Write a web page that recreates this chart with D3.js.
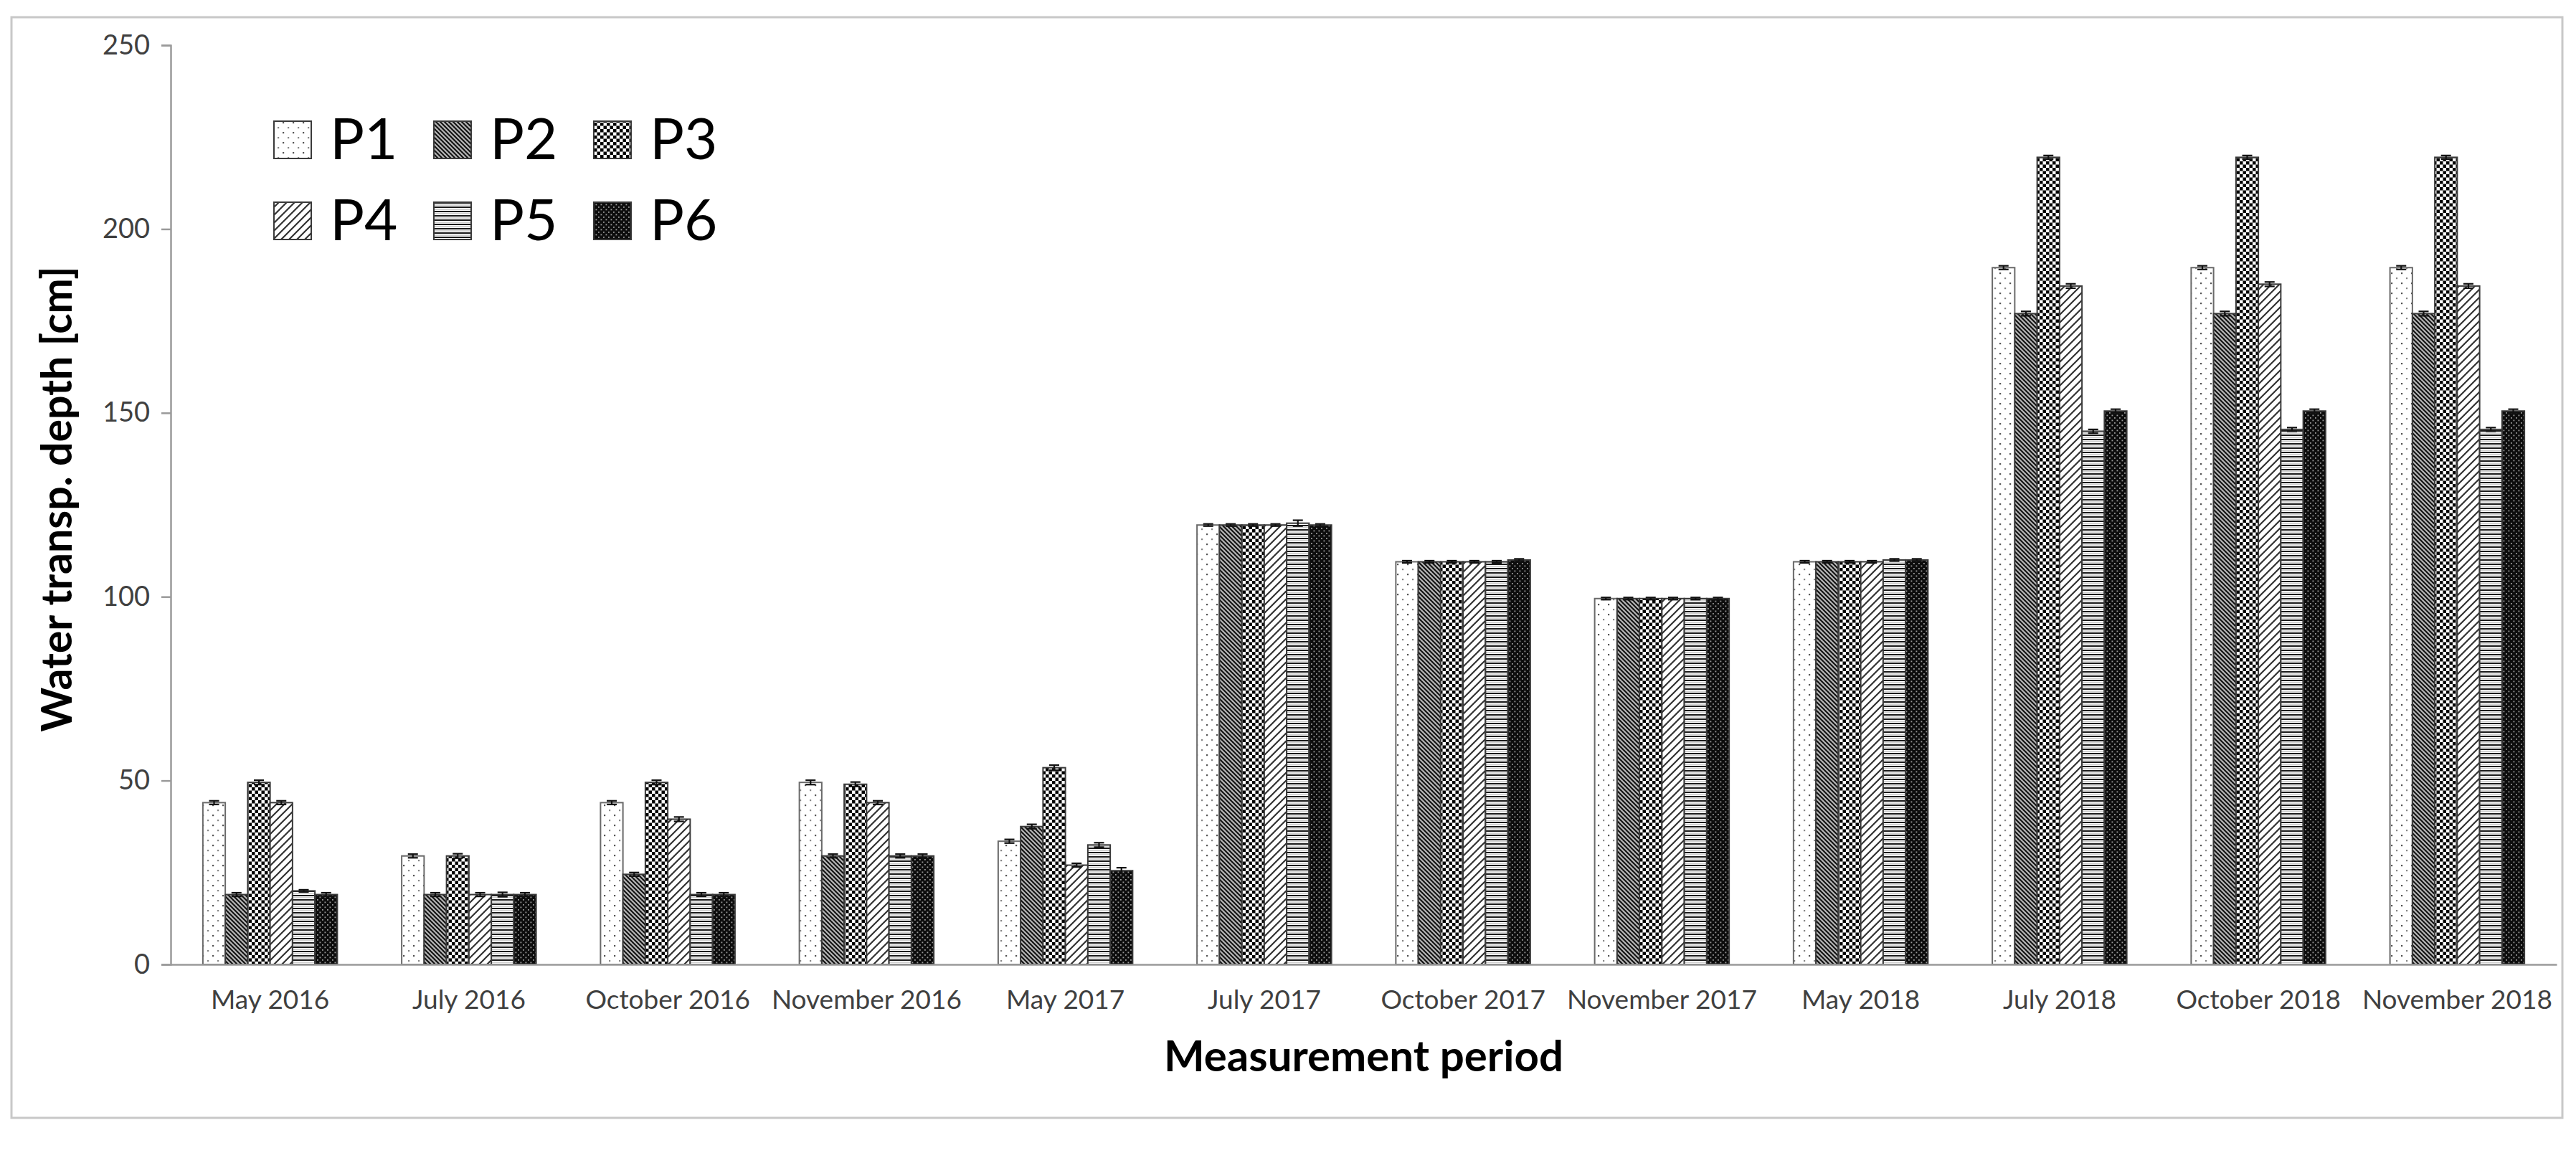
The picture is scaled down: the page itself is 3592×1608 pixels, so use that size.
<!DOCTYPE html>
<html>
<head>
<meta charset="utf-8">
<script src="https://cdn.jsdelivr.net/npm/d3@7"></script>
<style>
  html, body { margin: 0; padding: 0; background: #ffffff; }
  svg { display: block; }
  text { font-family: Lato, "Open Sans", sans-serif; }
</style>
</head>
<body>
<svg id="chart" width="3592" height="1608"></svg>
<script>
// ---------- data ----------
const categories = ["May 2016", "July 2016", "October 2016", "November 2016", "May 2017", "July 2017",
                    "October 2017", "November 2017", "May 2018", "July 2018", "October 2018", "November 2018"];
const seriesNames = ["P1", "P2", "P3", "P4", "P5", "P6"];
const P1 = [44, 29.5, 44, 49.5, 33.5, 119.5, 109.5, 99.5, 109.5, 189.5, 189.5, 189.5];
const P2 = [19, 19, 24.5, 29.5, 37.5, 119.5, 109.5, 99.5, 109.5, 177, 177, 177];
const P3 = [49.5, 29.5, 49.5, 49, 53.5, 119.5, 109.5, 99.5, 109.5, 219.5, 219.5, 219.5];
const P4 = [44, 19, 39.5, 44, 27, 119.5, 109.5, 99.5, 109.5, 184.5, 185, 184.5];
const P5 = [20, 19, 19, 29.5, 32.5, 120, 109.5, 99.5, 110, 145, 145.5, 145.5];
const P6 = [19, 19, 19, 29.5, 25.5, 119.5, 110, 99.5, 110, 150.5, 150.5, 150.5];
const E1 = [0.5, 0.5, 0.5, 0.6, 0.5, 0.3, 0.3, 0.3, 0.3, 0.5, 0.5, 0.5];
const E2 = [0.5, 0.5, 0.5, 0.5, 0.6, 0.3, 0.3, 0.3, 0.3, 0.6, 0.6, 0.6];
const E3 = [0.6, 0.6, 0.6, 0.6, 0.7, 0.3, 0.3, 0.3, 0.3, 0.5, 0.5, 0.5];
const E4 = [0.5, 0.5, 0.6, 0.5, 0.5, 0.3, 0.3, 0.3, 0.3, 0.6, 0.6, 0.6];
const E5 = [0.3, 0.6, 0.5, 0.5, 0.6, 0.8, 0.3, 0.3, 0.3, 0.5, 0.5, 0.5];
const E6 = [0.5, 0.5, 0.5, 0.5, 0.8, 0.3, 0.3, 0.3, 0.3, 0.5, 0.5, 0.5];
const yTicks = [0, 50, 100, 150, 200, 250];
const yTitle = "Water transp. depth [cm]";
const xTitle = "Measurement period";

const values = [P1, P2, P3, P4, P5, P6];
const errors = [E1, E2, E3, E4, E5, E6];

// ---------- layout ----------
const W = 3592, H = 1608;
const plot = { left: 238, right: 3565, top: 63, bottom: 1345 };

const svg = d3.select("#chart");
svg.append("rect").attr("width", W).attr("height", H).attr("fill", "#ffffff");

// outer chart border
svg.append("rect")
  .attr("x", 16).attr("y", 24).attr("width", 3557).attr("height", 1535)
  .attr("fill", "none").attr("stroke", "#c8c8c8").attr("stroke-width", 3);

// ---------- patterns ----------
const defs = svg.append("defs");
function pat(id, w, h, draw) {
  const p = defs.append("pattern").attr("id", id)
    .attr("patternUnits", "userSpaceOnUse").attr("width", w).attr("height", h);
  draw(p);
}
// P1: sparse dots
pat("pat0", 14, 14, p => {
  p.append("rect").attr("width", 14).attr("height", 14).attr("fill", "#ffffff");
  p.append("rect").attr("x", 2).attr("y", 2).attr("width", 2.2).attr("height", 2.2).attr("fill", "#555");
  p.append("rect").attr("x", 9).attr("y", 9).attr("width", 2.2).attr("height", 2.2).attr("fill", "#888");
});
// P2: dark downward diagonal
pat("pat1", 6, 6, p => {
  p.append("rect").attr("width", 6).attr("height", 6).attr("fill", "#b5b5b5");
  p.append("path").attr("d", "M-1,-1 L7,7 M-1,5 L1,7 M5,-1 L7,1")
    .attr("stroke", "#111").attr("stroke-width", 2);
});
// P3: checkerboard
pat("pat2", 9, 9, p => {
  p.append("rect").attr("width", 9).attr("height", 9).attr("fill", "#ffffff");
  p.append("rect").attr("width", 4.5).attr("height", 4.5).attr("fill", "#000");
  p.append("rect").attr("x", 4.5).attr("y", 4.5).attr("width", 4.5).attr("height", 4.5).attr("fill", "#000");
});
// P4: wide upward diagonal
pat("pat3", 11, 11, p => {
  p.append("rect").attr("width", 11).attr("height", 11).attr("fill", "#ffffff");
  p.append("path").attr("d", "M-1,12 L12,-1 M-3,3 L3,-3 M8,14 L14,8")
    .attr("stroke", "#333").attr("stroke-width", 2.2);
});
// P5: horizontal lines
pat("pat4", 6, 6, p => {
  p.append("rect").attr("width", 6).attr("height", 6).attr("fill", "#ffffff");
  p.append("rect").attr("y", 0).attr("width", 6).attr("height", 2).attr("fill", "#1a1a1a");
  p.append("rect").attr("y", 3.5).attr("width", 6).attr("height", 1).attr("fill", "#aaaaaa");
});
// P6: dark with white dots
pat("pat5", 7, 7, p => {
  p.append("rect").attr("width", 7).attr("height", 7).attr("fill", "#0d0d0d");
  p.append("rect").attr("x", 1).attr("y", 1).attr("width", 1.8).attr("height", 1.8).attr("fill", "#9a9a9a");
  p.append("rect").attr("x", 4.5).attr("y", 4.5).attr("width", 1.8).attr("height", 1.8).attr("fill", "#9a9a9a");
});

// ---------- scales ----------
const x0 = d3.scaleBand().domain(categories).range([plot.left, plot.right]).padding(0);
const x1 = d3.scaleBand().domain(seriesNames).range([0, x0.bandwidth()])
  .paddingInner(0).paddingOuter(1.436);
const y = d3.scaleLinear().domain([0, 250]).range([plot.bottom, plot.top]);

// ---------- bars ----------
const barData = [];
categories.forEach((c, ci) => {
  seriesNames.forEach((s, si) => {
    barData.push({ c, s, si, v: values[si][ci], e: errors[si][ci] });
  });
});

const gBars = svg.append("g");
gBars.selectAll("rect").data(barData).join("rect")
  .attr("x", d => x0(d.c) + x1(d.s))
  .attr("y", d => y(d.v))
  .attr("width", x1.bandwidth())
  .attr("height", d => y(0) - y(d.v))
  .attr("fill", d => `url(#pat${d.si})`)
  .attr("stroke", d => d.si === 0 ? "#6a6a6a" : "#3a3a3a")
  .attr("stroke-width", 2);

// error bars
const gErr = svg.append("g").attr("stroke", "#111").attr("stroke-width", 2.2);
const cap = 7;
barData.forEach(d => {
  const cx = x0(d.c) + x1(d.s) + x1.bandwidth() / 2;
  const y1 = y(d.v + d.e), y2 = y(d.v - d.e);
  gErr.append("line").attr("x1", cx).attr("x2", cx).attr("y1", y1).attr("y2", y2);
  gErr.append("line").attr("x1", cx - cap).attr("x2", cx + cap).attr("y1", y1).attr("y2", y1);
  gErr.append("line").attr("x1", cx - cap).attr("x2", cx + cap).attr("y1", y2).attr("y2", y2);
});

// ---------- axes ----------
const yAxis = d3.axisLeft(y).tickValues(yTicks).tickSize(13).tickPadding(16).tickFormat(d3.format("d"));
const gy = svg.append("g").attr("transform", `translate(${plot.left},0)`).call(yAxis);
gy.select(".domain").attr("stroke", "#9a9a9a").attr("stroke-width", 2.5);
gy.selectAll(".tick line").attr("stroke", "#9a9a9a").attr("stroke-width", 2.5);
gy.selectAll(".tick text").attr("fill", "#404040").style("font-size", "38px").style("font-family", "Lato");

const xAxis = d3.axisBottom(x0).tickSize(0).tickPadding(36);
const gx = svg.append("g").attr("transform", `translate(0,${plot.bottom})`).call(xAxis);
gx.select(".domain").attr("stroke", "#9a9a9a").attr("stroke-width", 2.5);
gx.selectAll(".tick text").attr("fill", "#404040").style("font-size", "37px").style("font-family", "Lato");

// ---------- titles ----------
svg.append("text")
  .attr("transform", `translate(100,696) rotate(-90)`)
  .attr("text-anchor", "middle")
  .style("font-size", "59px").style("font-weight", "bold").attr("fill", "#000")
  .text(yTitle);

svg.append("text")
  .attr("x", (plot.left + plot.right) / 2).attr("y", 1494)
  .attr("text-anchor", "middle")
  .style("font-size", "60px").style("font-weight", "bold").attr("fill", "#000")
  .text(xTitle);

// ---------- legend ----------
const gLeg = svg.append("g");
seriesNames.forEach((s, i) => {
  const col = i % 3, row = Math.floor(i / 3);
  const bx = 382 + col * 223, by = 169 + row * 113;
  gLeg.append("rect").attr("x", bx).attr("y", by).attr("width", 52).attr("height", 52)
    .attr("fill", `url(#pat${i})`).attr("stroke", "#3a3a3a").attr("stroke-width", 2);
  gLeg.append("text").attr("x", bx + 78).attr("y", by + 53)
    .style("font-size", "80px").attr("fill", "#000").text(s);
});
</script>
</body>
</html>
